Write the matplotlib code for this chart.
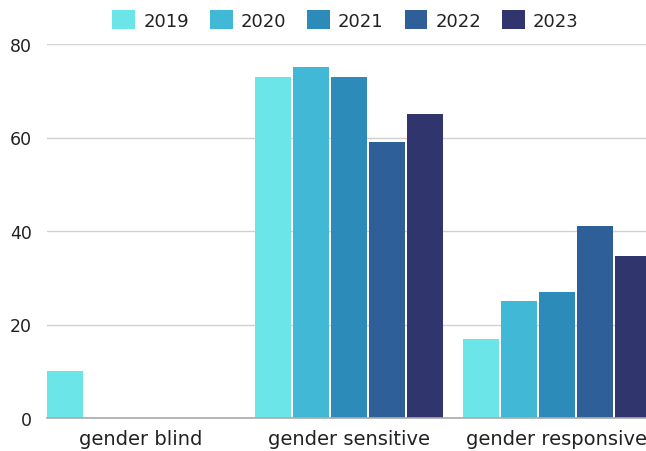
import matplotlib.pyplot as plt
import numpy as np

categories = ['gender blind', 'gender sensitive', 'gender responsive']
years = ['2019', '2020', '2021', '2022', '2023']
values = {
    '2019': [10, 73, 17],
    '2020': [0, 75, 25],
    '2021': [0, 73, 27],
    '2022': [0, 59, 41],
    '2023': [0, 65, 34.7],
}
colors = ['#6ce5e8', '#41b8d5', '#2d8bba', '#2f5f98', '#31356e']

plt.rcParams['font.family'] = ['DejaVu Sans']

fig = plt.figure(figsize=(6.46, 4.52), dpi=100)
# axes box in pixels: left 47, right 646, y=0 at 419, y=80 at 45
ax = fig.add_axes([47 / 646, 33 / 452, 1 - 47 / 646, 374 / 452])

x = np.arange(len(categories))
slot = 0.1829
width = 0.173

for i, (year, c) in enumerate(zip(years, colors)):
    ax.bar(x + (i - 2) * slot, values[year], width, color=c, label=year, zorder=3)

ax.set_ylim(0, 80)
ax.set_xlim(-0.452, 2.43)
ax.set_yticks([0, 20, 40, 60, 80])
ax.set_xticks(x, categories)
ax.tick_params(axis='both', length=0, colors='#222222')
ax.tick_params(axis='y', pad=11, labelsize=12.5)
ax.tick_params(axis='x', pad=8, labelsize=14)
ax.grid(axis='y', color='#d0d0d0', linewidth=1, zorder=0)
for s in ['top', 'right', 'left']:
    ax.spines[s].set_visible(False)
ax.spines['bottom'].set_color('#aaaaaa')
ax.spines['bottom'].set_linewidth(1.2)
ax.spines['bottom'].set_zorder(4)

fig.legend(loc='center', bbox_to_anchor=(345.5 / 646, 1 - 21 / 452), ncol=5,
           frameon=False, fontsize=13, handlelength=1.27, handleheight=1.27,
           handletextpad=0.44, columnspacing=1.16, borderaxespad=0,
           labelcolor='#222222')

fig.savefig('out.png', dpi=100)
